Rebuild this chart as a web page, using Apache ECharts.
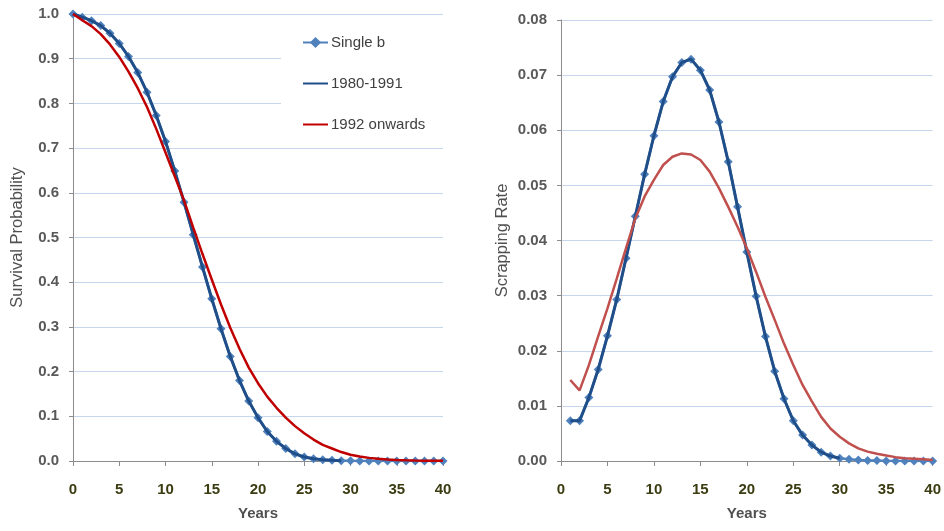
<!DOCTYPE html>
<html>
<head>
<meta charset="utf-8">
<script src="https://cdn.jsdelivr.net/npm/echarts@6/dist/echarts.min.js"></script>
<style>html,body{margin:0;padding:0;background:#fff}#c{width:944px;height:531px}</style>
</head>
<body>
<div id="c"></div>
<script>
// ---------- data ----------
var yearsLeft = [0,1,2,3,4,5,6,7,8,9,10,11,12,13,14,15,16,17,18,19,20,21,22,23,24,25,26,27,28,29,30,31,32,33,34,35,36,37,38,39,40];
var yearsRight = [1,2,3,4,5,6,7,8,9,10,11,12,13,14,15,16,17,18,19,20,21,22,23,24,25,26,27,28,29,30,31,32,33,34,35,36,37,38,39,40];

var survivalSingleB = [1.000,0.993,0.985,0.974,0.957,0.934,0.905,0.869,0.825,0.773,0.715,0.649,0.579,0.506,0.434,0.363,0.296,0.234,0.180,0.134,0.097,0.066,0.044,0.028,0.016,0.009,0.005,0.003,0.0015,0.0008,0.0004,0.0002,0.0001,0.0001,0,0,0,0,0,0,0];
var survival1980 = [1.000,0.993,0.985,0.974,0.957,0.934,0.905,0.869,0.825,0.773,0.715,0.649,0.579,0.506,0.434,0.363,0.296,0.234,0.180,0.134,0.097,0.066,0.044,0.028,0.016,0.009,0.005,0.003,0.0015,0.0008];
var survival1992 = [1.000,0.986,0.973,0.955,0.932,0.904,0.871,0.834,0.792,0.743,0.690,0.637,0.583,0.522,0.463,0.406,0.350,0.298,0.251,0.209,0.174,0.144,0.119,0.097,0.078,0.062,0.048,0.036,0.028,0.020,0.014,0.010,0.007,0.005,0.0035,0.0025,0.0018,0.0012,0.0008,0.0005,0.0003];

var scrapSingleB = [0.0073,0.0073,0.0115,0.0166,0.0227,0.0293,0.0368,0.0444,0.0520,0.0590,0.0652,0.0697,0.0723,0.0729,0.0709,0.0673,0.0615,0.0543,0.0461,0.0379,0.0299,0.0226,0.0163,0.0113,0.0073,0.0047,0.0029,0.0016,0.0009,0.0005,0.0003,0.0002,0.0001,0.0001,0,0,0,0,0,0];
var scrap1980 = [0.0073,0.0073,0.0115,0.0166,0.0227,0.0293,0.0368,0.0444,0.0520,0.0590,0.0652,0.0697,0.0723,0.0729,0.0709,0.0673,0.0615,0.0543,0.0461,0.0379,0.0299,0.0226,0.0163,0.0113,0.0073,0.0047,0.0029,0.0016,0.0009,0.0005];
var scrap1992 = [0.0147,0.0128,0.0174,0.0226,0.0277,0.0331,0.0386,0.0440,0.0480,0.0510,0.0537,0.0552,0.0558,0.0556,0.0546,0.0525,0.0495,0.0461,0.0425,0.0386,0.0343,0.0298,0.0256,0.0213,0.0174,0.0138,0.0108,0.0080,0.0059,0.0044,0.0032,0.0023,0.0017,0.0013,0.0010,0.0007,0.0005,0.0004,0.0003,0.0002];

var xTicks = [0,5,10,15,20,25,30,35,40];
var seriesNames = ['Single b','1980-1991','1992 onwards'];

function pairs(xs, ys){ var out=[]; for(var i=0;i<ys.length;i++){ out.push([xs[i], ys[i]]); } return out; }

// ---------- styles ----------
var FONT = 'Liberation Sans, Arial, sans-serif';
var cMarker = '#4f81bd';
var cNavy = '#1f4e89';
var cRedL = '#c00000';
var cRedR = '#c0504d';
var cGrid = '#c6d6ec';
var cAxis = '#8c8c8c';

function xAxis(idx){
  return {
    type:'value', gridIndex:idx, min:0, max:40, interval:5,
    name:'Years', nameLocation:'middle', nameGap:45,
    nameTextStyle:{fontFamily:FONT, fontSize:15, fontWeight:'bold', color:'#505050'},
    axisLine:{show:true, onZero:false, lineStyle:{color:cAxis, width:1}},
    axisTick:{show:true, length:5, lineStyle:{color:cAxis}},
    axisLabel:{margin:21, fontFamily:FONT, fontSize:15, fontWeight:'bold', color:'#3c3c12',
      formatter:function(v){ return xTicks.indexOf(v) >= 0 ? String(v) : ''; }},
    splitLine:{show:false}
  };
}
function yAxis(idx, max, interval, dec, name, gap){
  return {
    type:'value', gridIndex:idx, min:0, max:max, interval:interval,
    name:name, nameLocation:'middle', nameGap:gap, nameRotate:90,
    nameTextStyle:{fontFamily:FONT, fontSize:16.5, color:'#505050'},
    axisLine:{show:true, lineStyle:{color:cAxis, width:1}},
    axisTick:{show:true, length:4, lineStyle:{color:cAxis}},
    axisLabel:{margin:14, fontFamily:FONT, fontSize:15, fontWeight:'bold', color:'#595959',
      formatter:function(v){ return v.toFixed(dec); }},
    splitLine:{show:true, lineStyle:{color:cGrid, width:1}}
  };
}

var hiddenSymbol = {opacity:0, borderWidth:0};

var chart = echarts.init(document.getElementById('c'), null, {renderer:'canvas'});
chart.setOption({
  animation:false,
  backgroundColor:'#ffffff',
  grid:[
    {left:73, top:14, width:370, height:447, containLabel:false},
    {left:561, top:20, width:375, height:441, containLabel:false}
  ],
  legend:{
    data:[
      {name:seriesNames[0]},
      {name:seriesNames[1], itemStyle:hiddenSymbol},
      {name:seriesNames[2], itemStyle:hiddenSymbol}
    ],
    orient:'vertical', left:281, top:25,
    padding:[10,30,12,21],
    backgroundColor:'#ffffff',
    itemWidth:25, itemHeight:14, itemGap:26,
    textStyle:{fontFamily:FONT, fontSize:15, color:'#404040', padding:[0,0,0,-2]}
  },
  xAxis:[xAxis(0), xAxis(1)],
  yAxis:[
    yAxis(0, 1, 0.1, 1, 'Survival Probability', 47),
    yAxis(1, 0.08, 0.01, 2, 'Scrapping Rate', 50)
  ],
  series:[
    {name:seriesNames[0], type:'line', xAxisIndex:0, yAxisIndex:0, data:pairs(yearsLeft, survivalSingleB),
      symbol:'diamond', symbolSize:9, showSymbol:true, z:2,
      itemStyle:{color:cMarker}, lineStyle:{color:cMarker, width:2.5}},
    {name:seriesNames[1], type:'line', xAxisIndex:0, yAxisIndex:0, data:pairs(yearsLeft, survival1980),
      symbol:'none', z:3, itemStyle:{color:cNavy}, lineStyle:{color:cNavy, width:3}},
    {name:seriesNames[2], type:'line', xAxisIndex:0, yAxisIndex:0, data:pairs(yearsLeft, survival1992),
      symbol:'none', z:3, itemStyle:{color:cRedL}, lineStyle:{color:cRedL, width:2.5}},
    {name:seriesNames[0], type:'line', xAxisIndex:1, yAxisIndex:1, data:pairs(yearsRight, scrapSingleB),
      symbol:'diamond', symbolSize:9, showSymbol:true, z:2,
      itemStyle:{color:cMarker}, lineStyle:{color:cMarker, width:2.5}},
    {name:seriesNames[1], type:'line', xAxisIndex:1, yAxisIndex:1, data:pairs(yearsRight, scrap1980),
      symbol:'none', z:3, itemStyle:{color:cNavy}, lineStyle:{color:cNavy, width:3}},
    {name:seriesNames[2], type:'line', xAxisIndex:1, yAxisIndex:1, data:pairs(yearsRight, scrap1992),
      symbol:'none', z:3, itemStyle:{color:cRedR}, lineStyle:{color:cRedR, width:2.5}}
  ]
});
</script>
</body>
</html>
